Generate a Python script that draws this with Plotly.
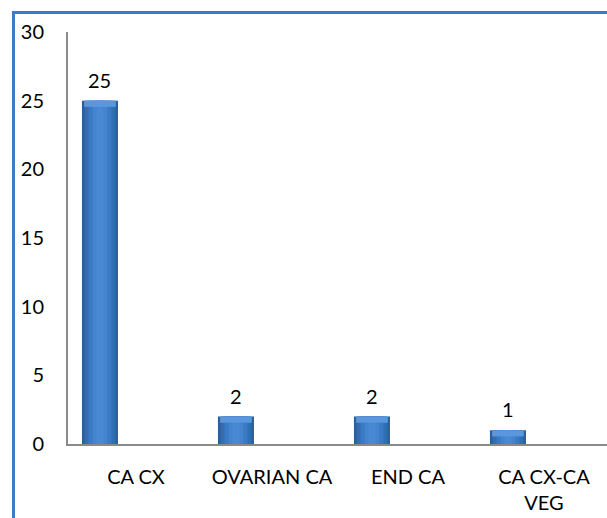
import plotly.graph_objects as go

# Case counts by diagnosis
categories = ["CA CX", "OVARIAN CA", "END CA", "CA CX-CA<br>VEG"]
counts = [25, 2, 2, 1]
y_ticks = [0, 5, 10, 15, 20, 25, 30]

x_pos = list(range(len(categories)))
shift = -0.265          # bars sit left of the category centre
bar_w = 0.265

# shaded column: overlaid bars of shrinking width give a rounded look
layers = [
    (bar_w, "#2a5fa2"),
    (0.225, "#326db6"),
    (0.17, "#3a79c4"),
    (0.11, "#4383cf"),
    (0.05, "#4989d4"),
]

fig = go.Figure()
for w, col in layers:
    fig.add_trace(go.Bar(
        x=x_pos, y=counts, width=w, offset=shift - w / 2,
        marker=dict(color=col, line=dict(width=0)),
        hoverinfo="skip", showlegend=False,
    ))

# lighter bevel at the top of each column
cap = 0.45
fig.add_trace(go.Bar(
    x=x_pos, y=[cap] * len(counts), base=[v - cap for v in counts],
    width=bar_w * 0.88, offset=shift - bar_w * 0.44,
    marker=dict(color="#5a97dc", line=dict(width=0)),
    hoverinfo="skip", showlegend=False,
))

label_font = dict(family="Lato, Open Sans, sans-serif", size=20, color="#000000")

for xi, v in zip(x_pos, counts):
    fig.add_annotation(
        x=xi + shift, y=v, text=str(v), showarrow=False,
        yanchor="bottom", yshift=7, font=label_font,
    )

fig.update_layout(
    width=607, height=518,
    margin=dict(l=68, r=0, t=32, b=74),
    paper_bgcolor="#ffffff", plot_bgcolor="#ffffff",
    barmode="overlay",
    font=label_font,
    xaxis=dict(
        range=[-0.5, 3.5 - 5 / 136], tickmode="array", tickvals=x_pos,
        ticktext=categories, showgrid=False, zeroline=False,
        showline=True, linecolor="#8a8a8a", linewidth=2,
        ticks="", ticklabelstandoff=14, fixedrange=True,
    ),
    yaxis=dict(
        range=[0, 30], tickmode="array", tickvals=y_ticks,
        showgrid=False, zeroline=False,
        showline=True, linecolor="#8a8a8a", linewidth=2,
        ticks="", ticklabelstandoff=18, fixedrange=True,
    ),
    shapes=[dict(
        type="rect", xref="paper", yref="paper",
        x0=(13.5 - 68) / 539, x1=1.2,
        y0=-0.5, y1=(444 - 12.5) / 412,
        line=dict(color="#3d7cc3", width=3), fillcolor="rgba(0,0,0,0)",
        layer="above",
    )],
)

fig.write_html("out.html")
